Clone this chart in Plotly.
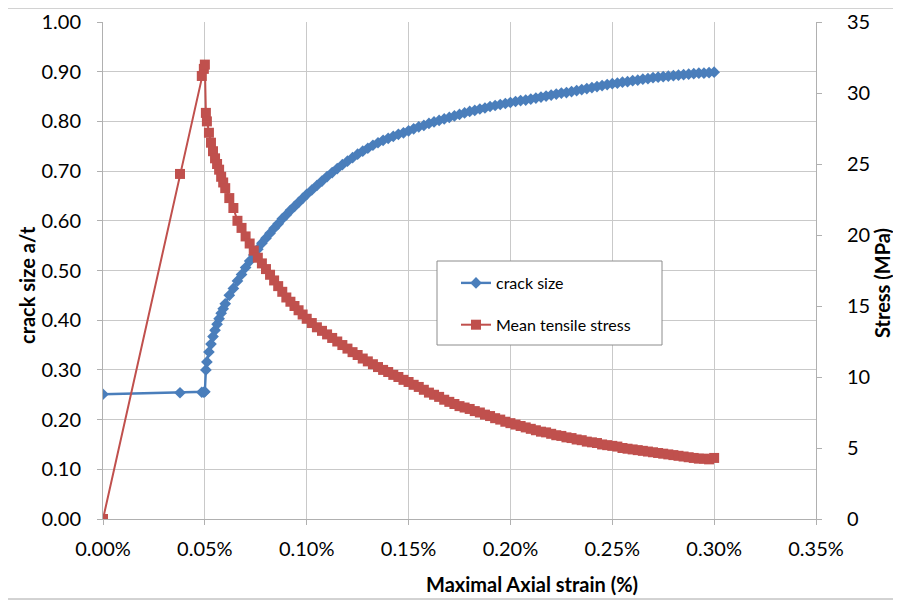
import plotly.graph_objects as go

# ---- data (strain in %, crack size a/t, stress MPa) ----
strain_pct = [
    0.0, 0.0378, 0.0485, 0.0495, 0.0500,
    0.0505, 0.0510, 0.0520, 0.0530, 0.0540, 0.0550, 0.0560, 0.0570, 0.0580, 0.0590, 0.0600,
    0.0620, 0.0640, 0.0660, 0.0680, 0.0700, 0.0720, 0.0740, 0.0760, 0.0780, 0.0800,
    0.0820, 0.0840, 0.0860, 0.0880, 0.0900, 0.0920, 0.0940, 0.0960, 0.0980, 0.1000,
    0.1025, 0.1050, 0.1075, 0.1100, 0.1125, 0.1150, 0.1175, 0.1200, 0.1225, 0.1250,
    0.1275, 0.1300, 0.1325, 0.1350, 0.1375, 0.1400, 0.1425, 0.1450, 0.1475, 0.1500,
    0.1525, 0.1550, 0.1575, 0.1600, 0.1625, 0.1650, 0.1675, 0.1700, 0.1725, 0.1750,
    0.1775, 0.1800, 0.1825, 0.1850, 0.1875, 0.1900, 0.1925, 0.1950, 0.1975, 0.2000,
    0.2025, 0.2050, 0.2075, 0.2100, 0.2125, 0.2150, 0.2175, 0.2200, 0.2225, 0.2250,
    0.2275, 0.2300, 0.2325, 0.2350, 0.2375, 0.2400, 0.2425, 0.2450, 0.2475, 0.2500,
    0.2525, 0.2550, 0.2575, 0.2600, 0.2625, 0.2650, 0.2675, 0.2700, 0.2725, 0.2750,
    0.2775, 0.2800, 0.2825, 0.2850, 0.2875, 0.2900, 0.2925, 0.2950, 0.2975, 0.3000,
]

crack_size = [
    0.251, 0.254, 0.255, 0.255, 0.256,
    0.300, 0.316, 0.336, 0.352, 0.367, 0.380, 0.392, 0.403, 0.414, 0.423, 0.433,
    0.450, 0.464, 0.479, 0.492, 0.506, 0.519, 0.531, 0.543, 0.555, 0.565,
    0.575, 0.585, 0.594, 0.604, 0.612, 0.621, 0.629, 0.637, 0.645, 0.653,
    0.662, 0.671, 0.680, 0.689, 0.697, 0.705, 0.713, 0.720, 0.727, 0.734,
    0.740, 0.746, 0.752, 0.757, 0.762, 0.766, 0.770, 0.774, 0.777, 0.781,
    0.785, 0.789, 0.792, 0.796, 0.799, 0.802, 0.805, 0.808, 0.811, 0.814,
    0.817, 0.820, 0.822, 0.825, 0.827, 0.830, 0.832, 0.834, 0.836, 0.838,
    0.840, 0.842, 0.843, 0.845, 0.847, 0.849, 0.851, 0.853, 0.855, 0.857,
    0.858, 0.860, 0.862, 0.864, 0.866, 0.868, 0.870, 0.872, 0.874, 0.876,
    0.877, 0.879, 0.880, 0.882, 0.883, 0.885, 0.886, 0.888, 0.889, 0.890,
    0.891, 0.892, 0.893, 0.894, 0.895, 0.896, 0.897, 0.897, 0.898, 0.899,
]

stress_mpa = [
    0.0, 24.3, 31.2, 31.7, 32.0,
    28.6, 28.0, 27.2, 26.5, 25.9, 25.4, 25.0, 24.6, 24.1, 23.7, 23.3,
    22.6, 21.9, 21.0, 20.5, 19.9, 19.4, 18.9, 18.4, 18.0, 17.6,
    17.2, 16.8, 16.4, 16.0, 15.6, 15.3, 15.0, 14.7, 14.4, 14.1,
    13.8, 13.5, 13.25, 13.0, 12.75, 12.5, 12.25, 12.0, 11.75, 11.55,
    11.3, 11.1, 10.9, 10.7, 10.5, 10.35, 10.15, 10.0, 9.8, 9.65,
    9.45, 9.3, 9.1, 8.9, 8.75, 8.6, 8.4, 8.25, 8.1, 7.95,
    7.85, 7.75, 7.6, 7.5, 7.35, 7.25, 7.1, 7.0, 6.85, 6.75,
    6.65, 6.55, 6.45, 6.35, 6.25, 6.15, 6.1, 6.0, 5.9, 5.85,
    5.75, 5.7, 5.6, 5.55, 5.45, 5.4, 5.35, 5.25, 5.2, 5.15,
    5.1, 5.0, 4.95, 4.9, 4.85, 4.8, 4.75, 4.7, 4.65, 4.6,
    4.55, 4.5, 4.45, 4.4, 4.35, 4.3, 4.25, 4.25, 4.2, 4.3,
]

x_title = "Maximal Axial strain (%)"
y_title = "crack size a/t"
y2_title = "Stress (MPa)"

strain = [v / 100.0 for v in strain_pct]

BLUE = "#4A7EBB"
RED = "#C0504D"
GRID = "#C9C9C9"
AXIS = "#B0B0B0"
FONT = "Lato"

# plot-area pixel geometry (page coords) used only to place frame/legend/titles
PX0, PX1, PY0, PY1 = 103, 816, 518, 21
def px(x):
    return (x - PX0) / (PX1 - PX0)
def py(y):
    return (PY0 - y) / (PY0 - PY1)

fig = go.Figure()
fig.add_trace(go.Scatter(
    x=strain, y=crack_size, name="crack size", mode="lines+markers",
    line=dict(color=BLUE, width=2.4),
    marker=dict(symbol="diamond", size=9, color=BLUE),
    legendgroup="a", yaxis="y",
))
fig.add_trace(go.Scatter(
    x=strain, y=stress_mpa, name="Mean tensile stress", mode="lines+markers",
    line=dict(color=RED, width=2),
    marker=dict(symbol="square", size=10, color=RED),
    legendgroup="b", yaxis="y2",
))

tickfont = dict(family=FONT, size=20, color="#000000")
titlefont = dict(family=FONT, size=20, color="#000000", weight="bold")

fig.update_layout(
    width=901, height=601,
    margin=dict(l=95, r=93, t=14, b=90, autoexpand=False),
    paper_bgcolor="white", plot_bgcolor="white",
    font=dict(family=FONT, color="#000000"),
    showlegend=True,
    legend=dict(
        x=px(456), y=py(265), xanchor="left", yanchor="top",
        bgcolor="rgba(0,0,0,0)", borderwidth=0,
        font=dict(family=FONT, size=16, color="#000000"),
        tracegroupgap=18, traceorder="grouped",
        itemwidth=30,
    ),
    xaxis=dict(
        range=[0, 0.0035], dtick=0.0005, tick0=0, tickformat=".2%",
        showgrid=True, gridcolor=GRID, gridwidth=1,
        showline=True, linecolor=AXIS, linewidth=1,
        ticks="outside", ticklen=5, tickcolor=AXIS,
        zeroline=False, tickfont=tickfont, ticklabelstandoff=7,
        automargin=False,
    ),
    yaxis=dict(
        range=[0, 1], dtick=0.1, tick0=0, tickformat=".2f",
        showgrid=True, gridcolor=GRID, gridwidth=1,
        showline=True, linecolor=AXIS, linewidth=1,
        ticks="outside", ticklen=5, tickcolor=AXIS,
        zeroline=False, tickfont=tickfont, ticklabelstandoff=12,
        automargin=False,
    ),
    yaxis2=dict(
        overlaying="y", side="right",
        range=[0, 35], dtick=5, tick0=0,
        showgrid=False, showline=True, linecolor=AXIS, linewidth=1,
        ticks="outside", ticklen=5, tickcolor=AXIS,
        zeroline=False, tickfont=tickfont, ticklabelstandoff=21,
        automargin=False,
    ),
    annotations=[
        dict(text=x_title, xref="paper", yref="paper", x=px(532), y=py(583),
             xanchor="center", yanchor="middle", showarrow=False, font=titlefont),
        dict(text=y_title, xref="paper", yref="paper", x=px(27), y=py(284),
             xanchor="center", yanchor="middle", showarrow=False, font=titlefont,
             textangle=-90),
        dict(text=y2_title, xref="paper", yref="paper", x=px(882), y=py(282),
             xanchor="center", yanchor="middle", showarrow=False, font=titlefont,
             textangle=-90),
    ],
    shapes=[
        dict(
            type="rect", xref="paper", yref="paper",
            x0=px(4), x1=px(897), y0=py(598), y1=py(7),
            line=dict(color="#A6A6A6", width=1), fillcolor="rgba(0,0,0,0)",
            layer="below",
        ),
        dict(
            type="rect", xref="paper", yref="paper",
            x0=px(437), x1=px(662), y0=py(344), y1=py(260),
            line=dict(color="#8C8C8C", width=1), fillcolor="white",
            layer="above",
        ),
    ],
)

fig.write_html("out.html")
